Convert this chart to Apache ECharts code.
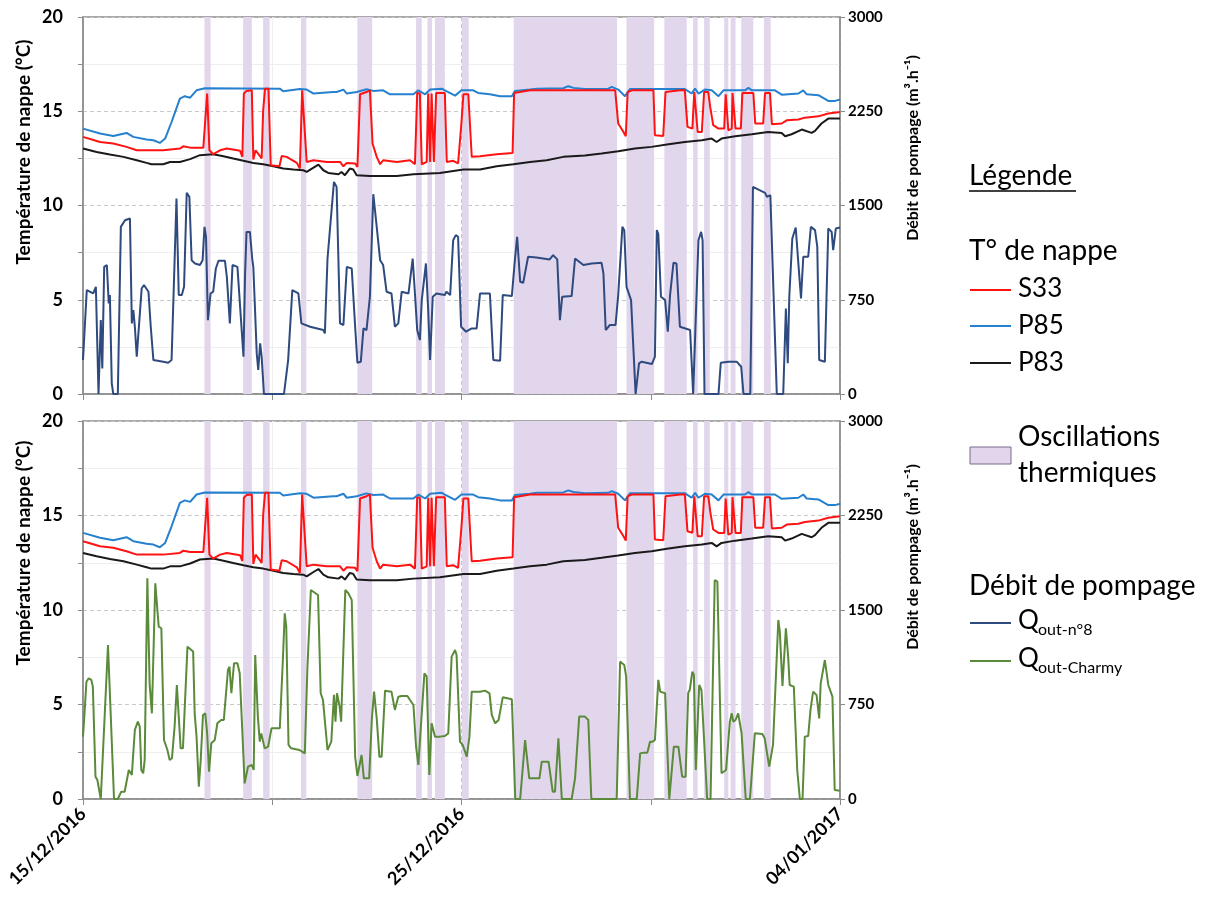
<!DOCTYPE html>
<html><head><meta charset="utf-8">
<script src="https://cdn.jsdelivr.net/npm/echarts@6/dist/echarts.min.js"></script>
<style>html,body{margin:0;padding:0;background:#fff}#c{width:1211px;height:908px}</style>
</head><body><div id="c"></div><script>
// x values: days since 15/12/2016 00:00
const xTickDays = [0, 10, 20];
const xTickLabels = ['15/12/2016', '25/12/2016', '04/01/2017'];
const tempTicks = [0, 5, 10, 15, 20];
const flowTicks = [0, 750, 1500, 2250, 3000];

const oscillationBands = [[3.21,3.37],[4.23,4.46],[4.76,4.93],[5.76,5.90],[7.25,7.64],[8.80,8.95],[9.10,9.22],[9.30,9.56],[10.01,10.19],[11.38,14.11],[14.36,15.09],[15.36,15.95],[16.12,16.24],[16.41,16.56],[16.94,17.05],[17.11,17.24],[17.39,17.71],[17.99,18.17]];

const p85 = [[0,14.08],[0.45,13.82],[0.80,13.69],[1.15,13.85],[1.33,13.64],[1.68,13.50],[1.86,13.46],[2.03,13.32],[2.17,13.55],[2.34,14.43],[2.56,15.67],[2.69,15.80],[2.83,15.72],[3.00,16.11],[3.22,16.22],[5.20,16.20],[5.29,16.06],[5.73,16.18],[5.91,16.15],[6.09,15.94],[6.26,15.97],[6.61,16.02],[6.70,16.02],[6.88,16.15],[6.97,15.94],[7.23,16.02],[7.49,16.17],[7.67,16.08],[7.93,16.11],[8.11,15.90],[8.73,15.90],[8.86,16.11],[9.04,15.90],[9.17,16.15],[9.48,16.20],[9.56,16.11],[9.83,15.83],[10.00,16.11],[10.31,16.11],[10.44,15.97],[10.75,15.90],[11.02,15.80],[11.33,15.80],[11.41,16.08],[11.81,16.15],[11.99,16.20],[12.69,16.22],[12.82,16.33],[12.96,16.24],[13.26,16.18],[13.88,16.20],[13.97,16.29],[14.14,16.15],[14.32,15.80],[14.45,16.18],[15.90,16.18],[16.08,15.94],[16.17,16.20],[16.26,15.94],[16.43,16.15],[16.61,16.11],[16.79,15.80],[16.92,16.11],[17.49,16.11],[17.58,16.24],[17.67,16.11],[18.28,16.11],[18.46,15.88],[18.90,15.94],[19.03,16.11],[19.12,15.90],[19.43,15.85],[19.69,15.55],[19.87,15.55],[20.0,15.62]];

const s33 = [[0,13.64],[0.45,13.37],[0.80,13.29],[1.15,13.11],[1.42,12.93],[2.12,12.93],[2.56,13.02],[2.65,13.14],[2.83,13.07],[3.18,13.07],[3.23,13.02],[3.28,15.94],[3.34,12.93],[3.44,12.72],[3.62,12.93],[3.80,13.02],[4.15,12.90],[4.21,12.58],[4.25,15.94],[4.32,16.08],[4.46,16.11],[4.50,12.44],[4.56,12.93],[4.68,12.61],[4.72,12.49],[4.76,15.05],[4.81,16.20],[4.90,16.20],[4.96,12.14],[5.19,12.08],[5.25,12.63],[5.38,12.58],[5.65,12.26],[5.73,11.96],[5.79,16.11],[5.91,12.31],[6.09,12.40],[6.44,12.31],[6.79,12.31],[6.88,12.08],[6.97,12.26],[7.19,12.23],[7.25,12.05],[7.32,15.90],[7.49,16.02],[7.58,16.11],[7.65,13.29],[7.76,12.58],[7.85,12.19],[7.93,12.40],[8.29,12.31],[8.64,12.40],[8.77,12.19],[8.83,15.97],[8.90,15.94],[8.95,12.19],[9.08,12.31],[9.12,15.94],[9.17,12.31],[9.21,15.94],[9.27,12.31],[9.33,15.97],[9.56,15.97],[9.61,12.31],[9.78,12.37],[9.91,12.23],[10.00,14.43],[10.05,15.90],[10.18,15.90],[10.27,12.58],[10.49,12.61],[10.93,12.72],[11.35,12.79],[11.39,15.97],[11.81,16.11],[14.06,16.11],[14.14,14.35],[14.28,13.90],[14.34,13.67],[14.39,16.02],[14.50,16.11],[15.07,16.11],[15.11,13.73],[15.33,13.69],[15.39,16.02],[15.77,16.11],[15.81,16.02],[15.90,16.11],[15.97,14.17],[16.10,14.08],[16.15,16.02],[16.24,13.90],[16.35,13.90],[16.41,16.02],[16.52,16.02],[16.57,15.23],[16.65,14.26],[16.79,14.08],[16.94,14.08],[16.98,15.90],[17.05,13.99],[17.14,14.08],[17.16,15.97],[17.24,14.08],[17.38,14.08],[17.42,15.97],[17.71,15.97],[17.76,14.35],[17.97,14.35],[18.02,15.97],[18.15,15.97],[18.20,14.31],[18.46,14.35],[18.59,14.52],[18.90,14.56],[19.07,14.66],[19.43,14.73],[19.69,14.88],[20.0,14.96]];

const p83 = [[0,13.02],[0.36,12.84],[0.71,12.70],[1.07,12.58],[1.42,12.40],[1.68,12.26],[1.81,12.19],[2.12,12.19],[2.30,12.31],[2.56,12.31],[2.83,12.46],[3.09,12.67],[3.44,12.72],[3.71,12.61],[3.97,12.49],[4.24,12.37],[4.50,12.26],[4.76,12.19],[5.03,12.08],[5.29,11.96],[5.56,11.91],[5.82,11.87],[5.91,11.78],[6.09,12.01],[6.22,12.17],[6.35,11.87],[6.48,11.73],[6.53,11.70],[6.75,11.66],[6.83,11.78],[6.92,11.61],[7.05,11.96],[7.14,11.91],[7.23,11.61],[7.58,11.57],[8.29,11.57],[8.73,11.66],[9.43,11.73],[10.05,11.91],[10.49,11.91],[10.93,12.08],[11.37,12.19],[11.81,12.31],[12.25,12.40],[12.69,12.58],[13.26,12.65],[13.70,12.76],[14.14,12.88],[14.58,13.02],[15.02,13.11],[15.47,13.25],[15.90,13.37],[16.35,13.46],[16.61,13.55],[16.74,13.37],[16.87,13.55],[17.23,13.67],[17.67,13.78],[18.10,13.90],[18.46,13.85],[18.55,13.67],[18.72,13.78],[18.99,14.03],[19.25,13.85],[19.34,13.96],[19.51,14.35],[19.69,14.61],[20.0,14.61]];

const qN8 = [[0,270],[0.10,827],[0.27,800],[0.34,853],[0.41,0],[0.47,588],[0.51,204],[0.56,1012],[0.63,1026],[0.68,721],[0.71,787],[0.76,85],[0.80,0],[0.92,0],[1.00,1330],[1.11,1383],[1.24,1397],[1.29,562],[1.33,668],[1.37,535],[1.42,297],[1.47,297],[1.55,840],[1.61,867],[1.73,814],[1.79,535],[1.86,270],[2.12,257],[2.25,249],[2.34,270],[2.47,1556],[2.53,787],[2.61,787],[2.67,853],[2.74,1601],[2.81,1569],[2.87,1065],[2.96,1039],[3.09,1026],[3.16,1065],[3.21,1330],[3.25,1251],[3.30,588],[3.37,800],[3.44,814],[3.51,999],[3.58,1060],[3.75,1060],[3.80,933],[3.88,562],[3.95,1026],[4.08,1012],[4.24,297],[4.28,933],[4.32,1290],[4.41,1290],[4.47,1078],[4.50,1012],[4.54,1012],[4.59,323],[4.63,191],[4.68,403],[4.72,297],[4.78,0],[5.31,0],[5.42,270],[5.53,827],[5.69,800],[5.77,562],[6.00,535],[6.35,509],[6.39,482],[6.46,1078],[6.51,1065],[6.63,1688],[6.70,1648],[6.79,562],[6.88,549],[6.97,1012],[7.10,999],[7.19,535],[7.25,249],[7.34,257],[7.41,522],[7.49,509],[7.58,774],[7.67,1590],[7.76,1330],[7.85,1065],[7.93,1026],[8.02,814],[8.15,800],[8.24,535],[8.33,562],[8.42,814],[8.60,800],[8.71,1078],[8.77,800],[8.83,509],[8.90,429],[8.95,747],[9.06,1039],[9.12,668],[9.17,270],[9.24,774],[9.34,800],[9.56,787],[9.60,814],[9.70,787],[9.78,1224],[9.85,1264],[9.91,1251],[9.99,535],[10.12,496],[10.27,522],[10.40,522],[10.49,800],[10.75,800],[10.84,270],[11.02,265],[11.09,787],[11.33,779],[11.41,1065],[11.47,1251],[11.55,893],[11.63,885],[11.76,1092],[11.98,1087],[12.33,1071],[12.42,1105],[12.53,1071],[12.60,588],[12.66,774],[12.91,779],[13.00,1078],[13.22,1026],[13.44,1039],[13.70,1044],[13.75,959],[13.81,509],[13.92,549],[14.07,549],[14.14,787],[14.25,1330],[14.30,1304],[14.36,853],[14.48,747],[14.60,0],[14.69,244],[14.76,257],[15.03,238],[15.11,297],[15.16,1304],[15.20,1272],[15.27,774],[15.38,747],[15.45,496],[15.51,787],[15.60,1044],[15.68,1039],[15.77,535],[16.04,509],[16.12,0],[16.26,1224],[16.33,1290],[16.37,1224],[16.42,0],[16.79,0],[16.85,249],[17.05,257],[17.27,257],[17.39,217],[17.45,0],[17.63,0],[17.70,1648],[18.02,1601],[18.07,1569],[18.16,1582],[18.33,0],[18.50,0],[18.57,681],[18.62,244],[18.66,774],[18.74,1238],[18.83,1325],[18.90,1039],[18.97,761],[19.03,1092],[19.16,1092],[19.23,1330],[19.34,1304],[19.40,1171],[19.45,270],[19.60,257],[19.69,1317],[19.78,1290],[19.82,1145],[19.89,1317],[20.0,1325]];

const qCharmy = [[0,495],[0.04,680],[0.09,931],[0.15,958],[0.22,945],[0.26,892],[0.33,177],[0.38,151],[0.47,0],[0.50,0],[0.66,1222],[0.82,0],[0.92,0],[1.01,58],[1.10,58],[1.21,230],[1.26,217],[1.29,191],[1.37,548],[1.45,614],[1.50,574],[1.54,230],[1.59,204],[1.63,310],[1.70,1752],[1.76,918],[1.82,680],[1.91,1712],[2.00,1368],[2.07,1355],[2.14,468],[2.23,389],[2.29,310],[2.35,323],[2.42,574],[2.48,905],[2.53,892],[2.58,402],[2.64,402],[2.76,1209],[2.91,1170],[2.95,680],[3.00,495],[3.06,98],[3.11,310],[3.17,667],[3.23,680],[3.28,521],[3.33,217],[3.39,442],[3.48,468],[3.55,601],[3.65,627],[3.72,627],[3.83,1024],[3.87,1050],[3.92,839],[3.99,1077],[4.08,1077],[4.14,998],[4.20,601],[4.27,124],[4.36,257],[4.46,270],[4.51,230],[4.55,1143],[4.62,654],[4.67,455],[4.71,521],[4.76,521],[4.80,402],[4.89,415],[4.98,561],[5.20,561],[5.28,1103],[5.33,1474],[5.37,1368],[5.43,429],[5.50,402],[5.72,389],[5.86,362],[5.93,1050],[6.02,1659],[6.21,1619],[6.28,839],[6.34,786],[6.46,389],[6.56,455],[6.63,826],[6.67,614],[6.71,839],[6.78,733],[6.82,614],[6.86,614],[6.93,1659],[7.01,1633],[7.10,1580],[7.19,336],[7.25,183],[7.36,349],[7.42,164],[7.56,164],[7.63,627],[7.69,852],[7.76,640],[7.83,336],[7.89,336],[7.98,860],[8.15,852],[8.24,707],[8.33,812],[8.42,818],[8.57,818],[8.64,786],[8.73,746],[8.80,415],[8.86,270],[8.95,680],[9.02,998],[9.08,971],[9.15,191],[9.21,601],[9.30,495],[9.43,495],[9.56,500],[9.65,521],[9.74,1130],[9.83,1183],[9.87,1143],[9.96,455],[10.03,429],[10.14,336],[10.21,495],[10.27,852],[10.49,852],[10.62,860],[10.74,839],[10.80,667],[10.89,601],[10.98,627],[11.09,807],[11.33,791],[11.42,0],[11.55,0],[11.68,468],[11.79,164],[12.06,164],[12.12,296],[12.30,296],[12.41,58],[12.47,58],[12.56,482],[12.65,0],[12.91,0],[13.00,164],[13.04,164],[13.11,654],[13.26,654],[13.35,627],[13.43,0],[14.10,0],[14.19,1090],[14.30,1064],[14.35,971],[14.45,0],[14.63,0],[14.72,362],[14.81,368],[14.91,368],[14.98,455],[15.05,455],[15.11,468],[15.20,945],[15.25,852],[15.38,839],[15.49,0],[15.61,415],[15.73,415],[15.83,177],[15.92,177],[15.99,844],[16.03,865],[16.10,1011],[16.14,984],[16.19,230],[16.28,905],[16.34,865],[16.49,0],[16.58,0],[16.69,1738],[16.76,1725],[16.87,204],[16.99,230],[17.09,614],[17.14,680],[17.18,614],[17.24,627],[17.31,680],[17.40,521],[17.51,0],[17.62,0],[17.75,521],[17.95,516],[18.01,482],[18.13,257],[18.23,429],[18.37,1421],[18.41,1328],[18.48,897],[18.57,1355],[18.63,1130],[18.67,905],[18.78,892],[18.87,230],[18.94,0],[19.01,0],[19.07,495],[19.16,500],[19.22,707],[19.29,852],[19.38,826],[19.45,640],[19.49,918],[19.53,931],[19.60,1103],[19.69,905],[19.73,897],[19.80,812],[19.86,71],[20.0,66]];

const C = {s33:'#FF1212', p85:'#2580CF', p83:'#1A1A1A', q8:'#2E4A7E', qc:'#5A8A3A', band:'#E1D6EC', frame:'#8C8C8C'};
const FONT = 'Lato';

function xAxisCfg(gi, showLabels) {
  return {
    type:'value', gridIndex:gi, min:xTickDays[0], max:xTickDays[xTickDays.length-1], interval:10,
    axisLine:{show:true, onZero:false, lineStyle:{color:C.frame, width:1.5}},
    axisTick:{show:true, length:6, lineStyle:{color:C.frame}},
    minorTick:{show:true, splitNumber:2, length:6, lineStyle:{color:C.frame}},
    splitLine:{show:true, lineStyle:{color:'#c4c4c4', type:[4,3]}},
    minorSplitLine:{show:true, lineStyle:{color:'#efefef'}},
    axisLabel:{show:showLabels, rotate:45, fontFamily:FONT, fontWeight:'bold', fontSize:18, color:'#000', margin:12,
      formatter: v => { const i = xTickDays.indexOf(v); return i >= 0 ? xTickLabels[i] : ''; }}
  };
}
function tempAxis(gi) {
  return {
    type:'value', gridIndex:gi, position:'left', min:tempTicks[0], max:tempTicks[tempTicks.length-1], interval:5,
    axisLine:{show:true, lineStyle:{color:C.frame, width:1.5}},
    axisTick:{show:true, length:5, lineStyle:{color:C.frame}},
    minorTick:{show:true, splitNumber:2, length:5, lineStyle:{color:C.frame}},
    splitLine:{show:true, lineStyle:{color:'#c8c8c8', type:[4,3]}},
    minorSplitLine:{show:true, lineStyle:{color:'#eeeeee'}},
    axisLabel:{fontFamily:FONT, fontWeight:'bold', fontSize:18, color:'#000', margin:20}
  };
}
function flowAxis(gi) {
  return {
    type:'value', gridIndex:gi, position:'right', min:flowTicks[0], max:flowTicks[flowTicks.length-1], interval:750,
    axisLine:{show:true, lineStyle:{color:C.frame, width:1.5}},
    axisTick:{show:true, length:5, lineStyle:{color:C.frame}},
    splitLine:{show:false},
    axisLabel:{fontFamily:FONT, fontWeight:'bold', fontSize:15, color:'#000', margin:8, formatter: v => String(v)}
  };
}
function lineS(name, data, color, xi, yi, z) {
  return {name, type:'line', data, xAxisIndex:xi, yAxisIndex:yi, showSymbol:false, symbol:'none',
    lineStyle:{color, width:2}, itemStyle:{color}, z:z||3, animation:false, silent:true};
}
function bandS(xi, yi) {
  return {type:'line', data:[], xAxisIndex:xi, yAxisIndex:yi, z:1, silent:true,
    markArea:{silent:true, itemStyle:{color:C.band}, data: oscillationBands.map(b => [{xAxis:b[0]}, {xAxis:b[1]}])}};
}

const grids = [
  {left:83, top:17, width:757, height:377, show:true, borderColor:C.frame, borderWidth:1.5, containLabel:false, outerBoundsMode:'none'},
  {left:83, top:421, width:757, height:378, show:true, borderColor:C.frame, borderWidth:1.5, containLabel:false, outerBoundsMode:'none'}
];

function txt(text, x, y, size, opts) {
  return Object.assign({type:'text', x, y, silent:true, style:Object.assign({text, fontFamily:FONT, fontSize:size, fill:'#000',
    textVerticalAlign:'middle', verticalAlign:'middle'}, (opts||{}).style||{})}, (opts||{}).el||{});
}
function legLine(y, color) {
  return {type:'line', silent:true, shape:{x1:970, y1:y, x2:1011, y2:y}, style:{stroke:color, lineWidth:2}};
}
const vStyle = {textAlign:'center', align:'center', fontWeight:'bold'};
const graphic = [
  // axis names
  txt('Température de nappe (°C)', 24, 152, 19, {style:vStyle, el:{rotation:Math.PI/2}}),
  txt('Température de nappe (°C)', 24, 553, 19, {style:vStyle, el:{rotation:Math.PI/2}}),
  txt('Débit de pompage (m³.h⁻¹)', 913, 148, 16, {style:vStyle, el:{rotation:Math.PI/2}}),
  txt('Débit de pompage (m³.h⁻¹)', 913, 557, 16, {style:vStyle, el:{rotation:Math.PI/2}}),
  // legend
  txt('Légende', 969, 176, 28),
  {type:'line', silent:true, shape:{x1:969, y1:191, x2:1076, y2:191}, style:{stroke:'#000', lineWidth:1.5}},
  txt('T° de nappe', 969, 251, 28),
  legLine(290, C.s33), txt('S33', 1018, 289, 26),
  legLine(326, C.p85), txt('P85', 1018, 326, 26),
  legLine(363, C.p83), txt('P83', 1018, 363, 26),
  {type:'rect', silent:true, shape:{x:970, y:447, width:41, height:17}, style:{fill:C.band, stroke:'#7a6a8a', lineWidth:1}},
  txt('Oscillations', 1018, 437, 28),
  txt('thermiques', 1018, 473, 28),
  txt('Débit de pompage', 969, 586, 28),
  legLine(623, C.q8), txt('Q', 1018, 621, 26), txt('out-n°8', 1038, 630, 16),
  legLine(661, C.qc), txt('Q', 1018, 659, 26), txt('out-Charmy', 1038, 668, 16)
];

const option = {
  animation:false,
  backgroundColor:'#fff',
  grid:grids,
  xAxis:[xAxisCfg(0,false), xAxisCfg(1,true)],
  yAxis:[tempAxis(0), flowAxis(0), tempAxis(1), flowAxis(1)],
  series:[
    bandS(0,0),
    lineS('P83', p83, C.p83, 0, 0),
    lineS('P85', p85, C.p85, 0, 0),
    lineS('S33', s33, C.s33, 0, 0),
    lineS('Qout-n°8', qN8, C.q8, 0, 1),
    bandS(1,2),
    lineS('P83', p83, C.p83, 1, 2),
    lineS('P85', p85, C.p85, 1, 2),
    lineS('S33', s33, C.s33, 1, 2),
    lineS('Qout-Charmy', qCharmy, C.qc, 1, 3)
  ],
  graphic:graphic
};
const chart = echarts.init(document.getElementById('c'), null, {renderer:'canvas'});
chart.setOption(option);
</script></body></html>
